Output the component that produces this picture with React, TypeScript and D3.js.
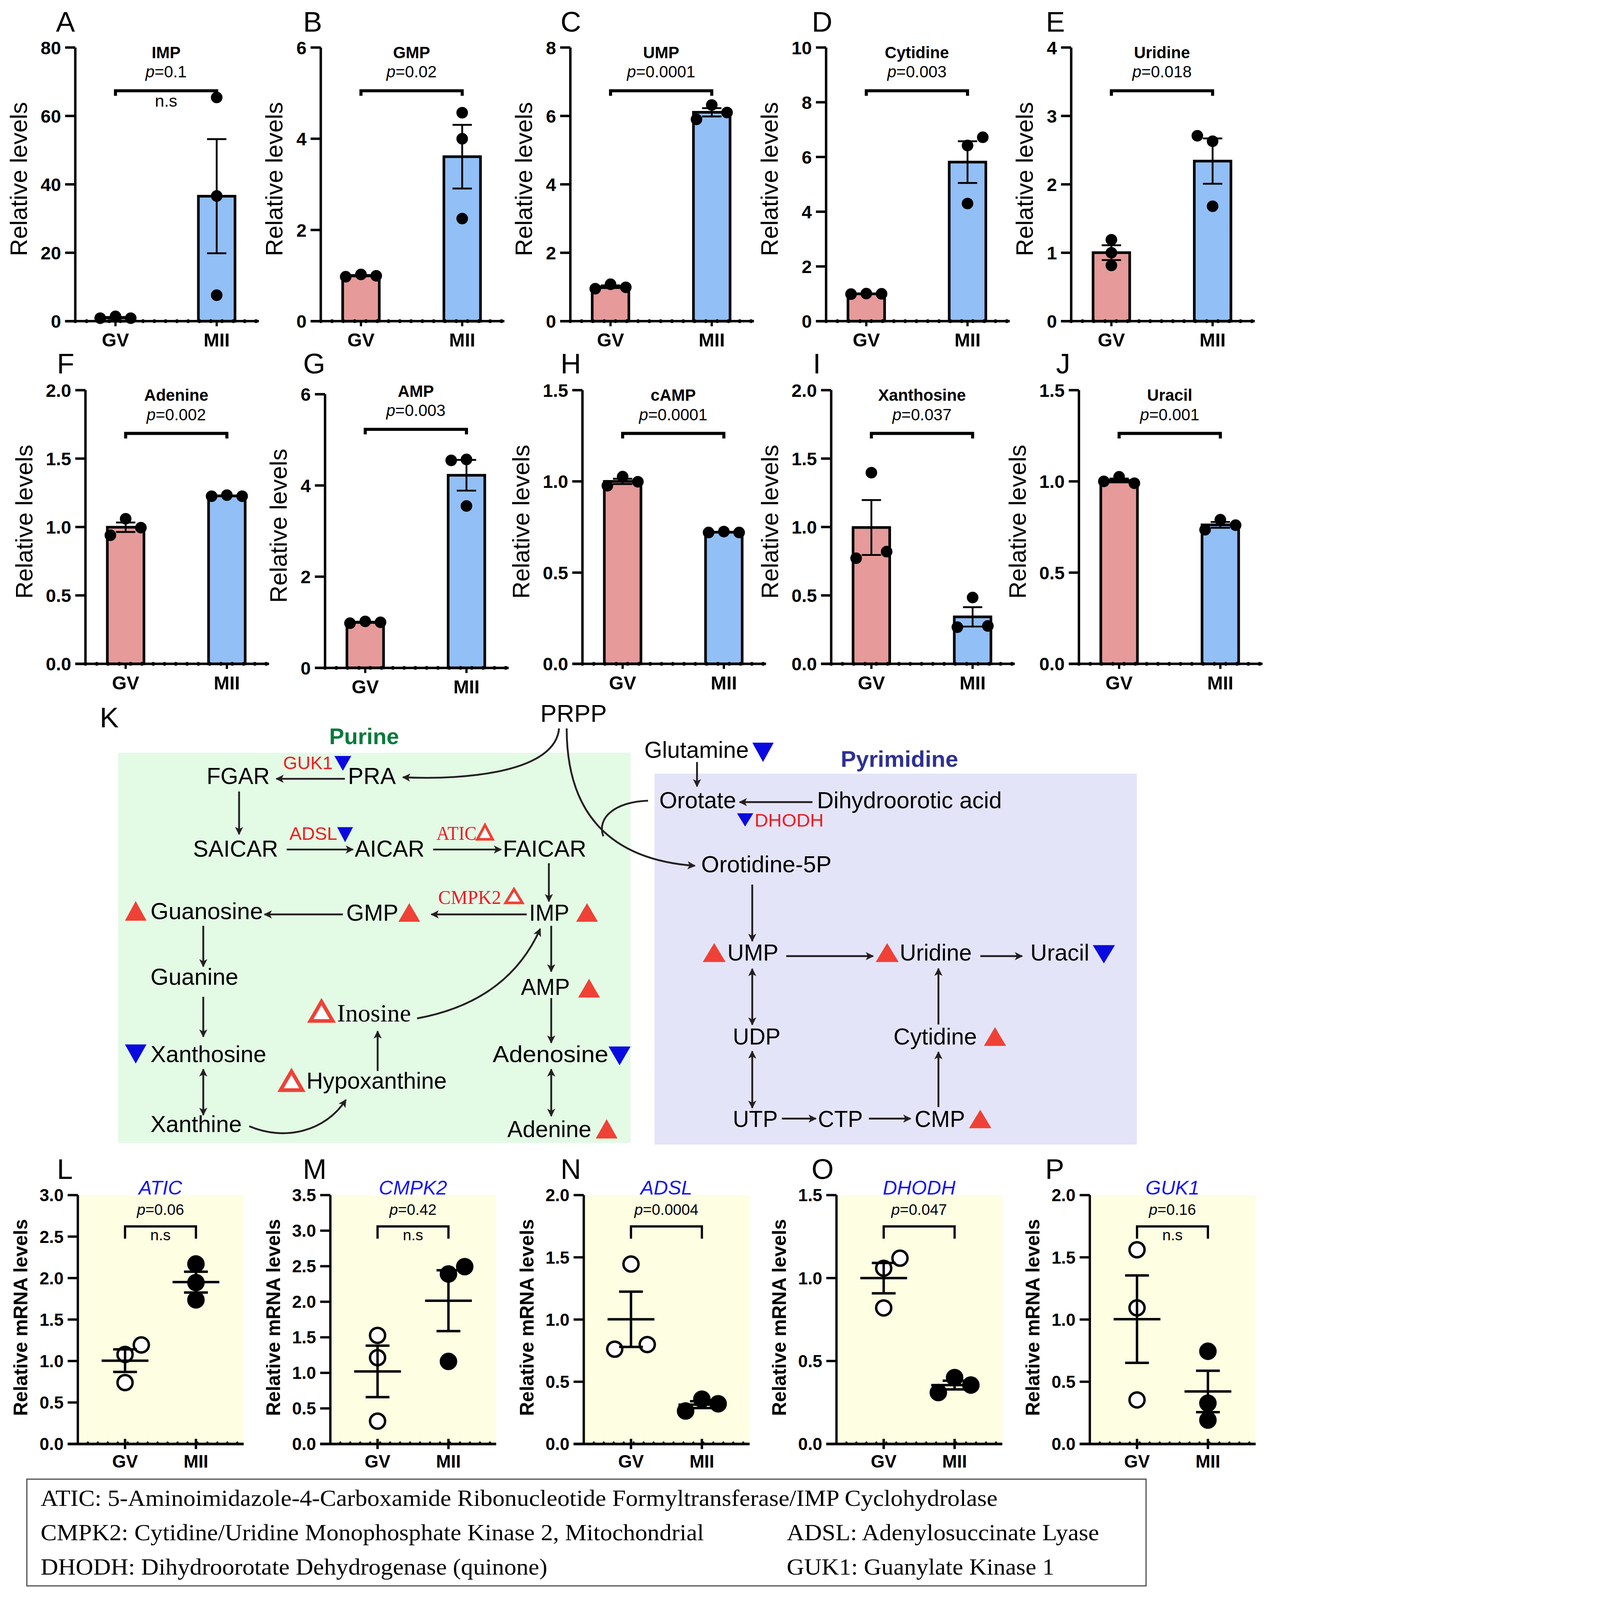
import React from "react";
import * as d3 from "d3";

const W = 1250;
const H = 1569.6;
// the photographed area is about 4096 px square, so the figure is scaled to fit it
const SCALE = 4088 / H;
const SANS = "'Liberation Sans', Arial, Helvetica, sans-serif";
const SERIF = "'Liberation Serif', 'Times New Roman', serif";

const groups = ["GV", "MII"];

// ---- A–J: metabolite levels (three samples per group)
const metabolites = ["IMP", "GMP", "UMP", "Cytidine", "Uridine", "Adenine", "AMP", "cAMP", "Xanthosine", "Uracil"];
const metaboliteP = ["0.1", "0.02", "0.0001", "0.003", "0.018", "0.002", "0.003", "0.0001", "0.037", "0.001"];
const metaboliteNs = [true, false, false, false, false, false, false, false, false, false];
const metaboliteMax = [80, 6, 8, 10, 4, 2, 6, 1.5, 2, 1.5];
const metaboliteStep = [20, 2, 2, 2, 1, 0.5, 2, 0.5, 0.5, 0.5];
const gvLevels = [
  [0.87, 1.41, 0.87],
  [0.975, 1.025, 0.995],
  [0.95, 1.08, 0.99],
  [0.99, 1.01, 1.0],
  [1.19, 1.0, 0.815],
  [0.94, 1.06, 0.995],
  [0.98, 1.02, 1.0],
  [0.976, 1.026, 0.998],
  [1.397, 0.772, 0.82],
  [1.0, 1.025, 0.99],
];
const miiLevels = [
  [65.4, 36.6, 7.6],
  [4.57, 4.0, 2.25],
  [5.9, 6.32, 6.1],
  [6.72, 6.42, 4.3],
  [2.71, 2.63, 1.68],
  [1.225, 1.233, 1.225],
  [4.55, 4.57, 3.55],
  [0.72, 0.725, 0.72],
  [0.485, 0.268, 0.277],
  [0.735, 0.79, 0.76],
];

// ---- L–P: relative mRNA levels
const genes = ["ATIC", "CMPK2", "ADSL", "DHODH", "GUK1"];
const geneP = ["0.06", "0.42", "0.0004", "0.047", "0.16"];
const geneNs = [true, true, false, false, true];
const geneMax = [3.0, 3.5, 2.0, 1.5, 2.0];
const gvMrna = [
  [1.079, 1.194, 0.74],
  [1.527, 1.214, 0.321],
  [1.446, 0.762, 0.799],
  [1.059, 1.12, 0.82],
  [1.561, 1.094, 0.354],
];
const miiMrna = [
  [2.17, 1.946, 1.737],
  [2.494, 2.39, 1.161],
  [0.265, 0.36, 0.323],
  [0.31, 0.4, 0.355],
  [0.745, 0.328, 0.192],
];

// ---- legend of gene names
const legendRows = [
  ["ATIC: 5-Aminoimidazole-4-Carboxamide Ribonucleotide Formyltransferase/IMP Cyclohydrolase", ""],
  ["CMPK2: Cytidine/Uridine Monophosphate Kinase 2, Mitochondrial", "ADSL: Adenylosuccinate Lyase"],
  ["DHODH: Dihydroorotate Dehydrogenase (quinone)", "GUK1: Guanylate Kinase 1"],
];

// ---- layout (positions / styling only)
const barAxisX = [74, 315.3, 560.6, 812, 1052.9, 84, 319.5, 572.5, 817, 1060.5];
const barTop = [46.7, 46.7, 46.7, 46.7, 46.7, 383.5, 387.5, 383.5, 383.5, 383.5];
const barLetterX = [55, 298, 551, 798, 1028, 56, 298, 551, 799, 1038];
const barLetterY = [31, 31, 31, 31, 31, 367, 367, 367, 367, 367];
const barShift = [0, 0, 0, 0, 0, 0, -8, 0, 0, 0];
// horizontal spread slot of each dot (-1 left, 0 centre, 1 right)
const gvSlots = [[-1, 0, 1], [-1, 0, 1], [-1, 0, 1], [-1, 0, 1], [0, 0, 0], [-1, 0, 1], [-1, 0, 1], [-1, 0, 1], [0, -1, 1], [-1, 0, 1]];
const miiSlots = [[0, 0, 0], [0, 0, 0], [-1, 0, 1], [1, 0, 0], [-1, 0, 0], [-1, 0, 1], [-1, 0, 0], [-1, 0, 1], [0, -1, 1], [-1, 0, 1]];

const mrnaAxisX = [76.5, 324.7, 573.8, 822.2, 1071.2];
const mrnaLetterX = [56, 297.7, 551, 797.7, 1027.4];
const mrnaTop = 1174.7;
const mrnaBottom = 1419.3;
const gvMrnaSlots = [[0, 1, 0], [0, 0, 0], [0, -1, 1], [0, 1, 0], [0, 0, 0]];
const miiMrnaSlots = [[0, 0, 0], [1, 0, 0], [-1, 0, 1], [-1, 0, 1], [0, 0, 0]];

const PINK = "#e69a9a";
const LIGHTBLUE = "#92bff6";
const RED = "#ef4136";
const ENZ = "#ed1c24";
const TRIBLUE = "#0a0ae0";
const INK = "#231f20";

const pLabel = (p: string) => (
  <>
    <tspan fontStyle="italic">p</tspan>={p}
  </>
);

const labelWidth = (s: string) => s.split("").reduce((a, c) => a + (c === "." ? 4.9 : 9.7), 0);

function BarPanel({ i }: { i: number }) {
  const ax = barAxisX[i];
  const top = barTop[i];
  const bottom = top + 269;
  const sh = barShift[i];
  const y = d3.scaleLinear().domain([0, metaboliteMax[i]]).range([bottom, top]);
  const x = d3.scalePoint<string>().domain(groups).range([ax, ax + 178.5]).padding(0.397);
  const xEnd = ax + 180.5;
  const step = metaboliteStep[i];
  const ticks = d3.range(0, metaboliteMax[i] + step / 2, step);
  const fmt = step < 1 ? d3.format(".1f") : d3.format("d");
  const maxW = d3.max(ticks, (t) => labelWidth(fmt(t)))!;
  const titleX = ax - 15 - maxW - 13;
  const sets = [gvLevels[i], miiLevels[i]];
  const slots = [gvSlots[i], miiSlots[i]];
  const fills = [PINK, LIGHTBLUE];
  const gx = x("GV")!;
  const mx = x("MII")!;
  const cx = (gx + mx) / 2;
  const by = top + 42.5 + sh;
  return (
    <g>
      <text x={barLetterX[i]} y={barLetterY[i]} fontSize={28}>
        {"ABCDEFGHIJ"[i]}
      </text>
      <text transform={`translate(${titleX},${top + 129.3}) rotate(-90)`} textAnchor="middle" fontSize={23.5}>
        Relative levels
      </text>
      {sets.map((v, k) => {
        const m = d3.mean(v)!;
        const c = x(groups[k])!;
        return (
          <rect key={k} x={c - 18} y={y(m)} width={36} height={bottom - y(m)} fill={fills[k]} stroke="#000" strokeWidth={2.6} />
        );
      })}
      {sets.map((v, k) => {
        const m = d3.mean(v)!;
        const se = d3.deviation(v)! / Math.sqrt(v.length);
        const c = x(groups[k])!;
        return (
          <g key={k} stroke="#000" strokeWidth={1.8}>
            <line x1={c} x2={c} y1={y(m - se)} y2={y(m + se)} />
            <line x1={c - 9.5} x2={c + 9.5} y1={y(m - se)} y2={y(m - se)} />
            <line x1={c - 9.5} x2={c + 9.5} y1={y(m + se)} y2={y(m + se)} />
          </g>
        );
      })}
      {/* axes */}
      <line x1={ax} x2={ax} y1={bottom} y2={top} stroke="#000" strokeWidth={2.4} />
      <line x1={ax - 10} x2={xEnd} y1={bottom} y2={bottom} stroke="#000" strokeWidth={2.4} />
      {d3.range(ax, xEnd, 11.1).map((d, k) => (
        <circle key={k} cx={d} cy={bottom} r={1.9} fill="#000" />
      ))}
      {ticks.map((t, k) => (
        <g key={k}>
          <line x1={ax - 10} x2={ax} y1={y(t)} y2={y(t)} stroke="#000" strokeWidth={2.4} />
          <text x={ax - 14} y={y(t)} dy="0.36em" textAnchor="end" fontWeight="bold" fontSize={18}>
            {fmt(t)}
          </text>
        </g>
      ))}
      {groups.map((g) => (
        <g key={g}>
          <line x1={x(g)} x2={x(g)} y1={bottom} y2={bottom + 5} stroke="#000" strokeWidth={2.2} />
          <text x={x(g)} y={bottom + 25} textAnchor="middle" fontWeight="bold" fontSize={18.5}>
            {g}
          </text>
        </g>
      ))}
      {sets.map((v, k) =>
        v.map((d, j) => (
          <circle key={`${k}-${j}`} cx={x(groups[k])! + slots[k][j] * 15} cy={y(d)} r={5.7} fill="#000" />
        ))
      )}
      {/* annotation */}
      <text x={cx} y={top + 10.5 + sh} textAnchor="middle" fontWeight="bold" fontSize={16}>
        {metabolites[i]}
      </text>
      <text x={cx} y={top + 29.5 + sh} textAnchor="middle" fontSize={16}>
        {pLabel(metaboliteP[i])}
      </text>
      <path d={`M${gx},${by + 5}V${by}H${mx}V${by + 5}`} fill="none" stroke="#000" strokeWidth={3} />
      {metaboliteNs[i] && (
        <text x={cx} y={top + 58 + sh} textAnchor="middle" fontSize={16.5}>
          n.s
        </text>
      )}
    </g>
  );
}

function MrnaPanel({ i }: { i: number }) {
  const ax = mrnaAxisX[i];
  const y = d3.scaleLinear().domain([0, geneMax[i]]).range([mrnaBottom, mrnaTop]);
  const x = d3.scalePoint<string>().domain(groups).range([ax, ax + 162.5]).padding(0.666);
  const xEnd = ax + 163;
  const ticks = d3.range(0, geneMax[i] + 0.25, 0.5);
  const fmt = d3.format(".1f");
  const sets = [gvMrna[i], miiMrna[i]];
  const slots = [gvMrnaSlots[i], miiMrnaSlots[i]];
  const gx = x("GV")!;
  const mx = x("MII")!;
  const cx = (gx + mx) / 2;
  const by = 1205.5;
  return (
    <g>
      <rect x={ax} y={mrnaTop} width={xEnd - ax} height={mrnaBottom - mrnaTop} fill="#fefee2" />
      <text x={mrnaLetterX[i]} y={1158.7} fontSize={28}>
        {"LMNOP"[i]}
      </text>
      <text transform={`translate(${ax - 49.5},1295) rotate(-90)`} textAnchor="middle" fontWeight="bold" fontSize={19}>
        Relative mRNA levels
      </text>
      <line x1={ax} x2={ax} y1={mrnaBottom} y2={mrnaTop} stroke="#000" strokeWidth={2.3} />
      <line x1={ax - 10} x2={xEnd} y1={mrnaBottom} y2={mrnaBottom} stroke="#000" strokeWidth={2.6} />
      {d3.range(ax, xEnd, 9.8).map((d, k) => (
        <circle key={k} cx={d} cy={mrnaBottom - 1.5} r={1} fill="#000" />
      ))}
      {ticks.map((t, k) => (
        <g key={k}>
          <line x1={ax - 10} x2={ax} y1={y(t)} y2={y(t)} stroke="#000" strokeWidth={2.3} />
          <text x={ax - 14} y={y(t)} dy="0.36em" textAnchor="end" fontWeight="bold" fontSize={17}>
            {fmt(t)}
          </text>
        </g>
      ))}
      {groups.map((g) => (
        <g key={g}>
          <line x1={x(g)} x2={x(g)} y1={mrnaBottom - 5} y2={mrnaBottom + 5} stroke="#000" strokeWidth={2.4} />
          <text x={x(g)} y={1442.6} textAnchor="middle" fontWeight="bold" fontSize={17.5}>
            {g}
          </text>
        </g>
      ))}
      {sets.map((v, k) =>
        v.map((d, j) => (
          <circle
            key={`${k}-${j}`}
            cx={x(groups[k])! + slots[k][j] * 16}
            cy={y(d)}
            r={7.4}
            fill={k === 0 ? "#fff" : "#000"}
            stroke="#000"
            strokeWidth={2.4}
          />
        ))
      )}
      {sets.map((v, k) => {
        const m = d3.mean(v)!;
        const se = d3.deviation(v)! / Math.sqrt(v.length);
        const c = x(groups[k])!;
        return (
          <g key={k} stroke="#000" strokeWidth={2.4}>
            <line x1={c - 23} x2={c + 23} y1={y(m)} y2={y(m)} />
            <line x1={c} x2={c} y1={y(m - se)} y2={y(m + se)} />
            <line x1={c - 11.7} x2={c + 11.7} y1={y(m - se)} y2={y(m - se)} />
            <line x1={c - 11.7} x2={c + 11.7} y1={y(m + se)} y2={y(m + se)} />
          </g>
        );
      })}
      <text x={cx} y={1174} textAnchor="middle" fontStyle="italic" fill="#1414f5" fontSize={19.5}>
        {genes[i]}
      </text>
      <text x={cx} y={1194} textAnchor="middle" fontSize={15}>
        {pLabel(geneP[i])}
      </text>
      <path d={`M${gx},${by + 12}V${by}H${mx}V${by + 12}`} fill="none" stroke="#000" strokeWidth={2.2} />
      {geneNs[i] && (
        <text x={cx} y={1219} textAnchor="middle" fontSize={15}>
          n.s
        </text>
      )}
    </g>
  );
}

// ---- pathway diagram (K)
type Node = [string, number, number, number, boolean?];
const purineNodes: Node[] = [
  ["FGAR", 203.1, 770.5, 62],
  ["PRA", 342, 770.5, 47],
  ["SAICAR", 189.8, 842.2, 83.6],
  ["AICAR", 348.7, 842.2, 68.6],
  ["FAICAR", 494.3, 842.2, 82],
  ["Guanosine", 147.9, 903.6, 110.5],
  ["GMP", 340.4, 905, 51.1],
  ["IMP", 520.1, 905, 39.5],
  ["Guanine", 147.9, 967.8, 86.4],
  ["AMP", 512, 978, 48.2],
  ["Inosine", 331.3, 1004, 72.6, true],
  ["Xanthosine", 147.9, 1044, 113.8],
  ["Adenosine", 484.3, 1044, 113.7],
  ["Hypoxanthine", 301.2, 1070, 137.9],
  ["Xanthine", 147.9, 1112.6, 89.7],
  ["Adenine", 498.7, 1117.8, 82.6],
];
const pyrimidineNodes: Node[] = [
  ["Glutamine", 633.3, 745, 102.7],
  ["Orotate", 648, 794.5, 75.6],
  ["Dihydroorotic acid", 803, 794.5, 181.7],
  ["Orotidine-5P", 689.2, 857.3, 128.1],
  ["UMP", 714.9, 944, 50.2],
  ["Uridine", 884.3, 944, 70.9],
  ["Uracil", 1012.8, 944, 57.9],
  ["UDP", 720.3, 1026.6, 46.8],
  ["Cytidine", 878.2, 1026.6, 82],
  ["UTP", 720.3, 1107.6, 44.2],
  ["CTP", 804, 1107.6, 44.1],
  ["CMP", 899, 1107.6, 49.5],
];
// enzyme labels: text, x, baseline, width, serif
const enzymes: Node[] = [
  ["GUK1", 278.4, 756, 48.6],
  ["ADSL", 284.5, 825.5, 47],
  ["ATIC", 429, 825.5, 39.5, true],
  ["CMPK2", 430.7, 888.3, 61.9, true],
  ["DHODH", 741.7, 812.4, 67.9],
];
// triangles: kind, centre x, top, width, height
type Tri = ["up" | "down" | "open", number, number, number, number];
const triangles: Tri[] = [
  ["up", 133.4, 885.7, 21.2, 19.3],
  ["up", 402.3, 887.7, 21.4, 18.3],
  ["up", 577, 887.7, 21.4, 18.3],
  ["up", 579, 962, 21.4, 18.5],
  ["up", 596.3, 1100, 21.4, 19],
  ["down", 133.4, 1026.6, 21.2, 18.8],
  ["down", 609, 1028.6, 21.6, 18.5],
  ["open", 286.5, 1053, 21.5, 18.5],
  ["open", 316, 984.5, 22, 19],
  ["down", 337, 743, 16.6, 14.6],
  ["down", 339.2, 813, 15.6, 14.8],
  ["open", 476.7, 811, 15, 14],
  ["open", 505.2, 874, 16.5, 13.5],
  ["down", 750, 730, 21, 19],
  ["down", 732.4, 799.4, 16, 13],
  ["up", 702, 927, 22.5, 18.6],
  ["up", 872, 927, 22.5, 18.6],
  ["down", 1085, 929, 21.8, 18],
  ["up", 978, 1009.6, 21.8, 18.4],
  ["up", 963.5, 1090.8, 22, 18.2],
];
// straight arrows: x1, y1, x2, y2, double-headed
const arrows: [number, number, number, number, boolean?][] = [
  [339, 765.5, 271.6, 765.5],
  [235, 778, 235, 820],
  [281.8, 835, 347, 835],
  [425.7, 835, 492.6, 835],
  [539.5, 848.5, 539.5, 886],
  [517.7, 898.8, 424, 898.8],
  [337, 898.8, 260, 898.8],
  [199.8, 910, 199.8, 950],
  [199.8, 979.8, 199.8, 1019],
  [199.8, 1051, 199.8, 1096, true],
  [541.8, 910, 541.8, 955],
  [541.8, 981, 541.8, 1025],
  [541.8, 1051, 541.8, 1097, true],
  [371.2, 1052.7, 371.2, 1013.6],
  [685.1, 749, 685.1, 773],
  [798.6, 788.4, 727, 788.4],
  [739.4, 869.5, 739.4, 925],
  [772.8, 939.8, 858.2, 939.8],
  [963.6, 939.8, 1004.7, 939.8],
  [739.4, 952.3, 739.4, 1007.2, true],
  [739.4, 1033.3, 739.4, 1089, true],
  [768.5, 1099.5, 802, 1099.5],
  [854.1, 1099.5, 895, 1099.5],
  [922.4, 1088.2, 922.4, 1034],
  [922.4, 1007, 922.4, 952],
];
const curves: [string, boolean][] = [
  ["M549.5,716 C546,758 462,767 396,764", true],
  ["M557,716 C557,800 600,845 683,851", true],
  ["M637,787 C606,788 586,803 593,822", false],
  ["M245,1107 C280,1122 320,1112 340,1081", true],
  ["M410,1001 C470,990 510,960 531,913", true],
];

function triPath([kind, cx, top, w, h]: Tri) {
  return kind === "down"
    ? `M${cx - w / 2},${top}L${cx + w / 2},${top}L${cx},${top + h}Z`
    : `M${cx - w / 2},${top + h}L${cx},${top}L${cx + w / 2},${top + h}Z`;
}

function Pathway() {
  const nodeText = (n: Node, k: number, size: number) => (
    <text
      key={k}
      x={n[1]}
      y={n[2]}
      fontSize={n[4] ? size + 1.5 : size}
      fontFamily={n[4] ? SERIF : SANS}
      textLength={n[3]}
      lengthAdjust="spacingAndGlyphs"
    >
      {n[0]}
    </text>
  );
  return (
    <g>
      <rect x={116.1} y={740} width={503.7} height={383.5} fill="#e3fae5" />
      <rect x={643.3} y={760.4} width={474.2} height={364.6} fill="#e4e4f8" />
      <text x={98} y={715} fontSize={28}>
        K
      </text>
      <text x={531.1} y={709.7} fontSize={24} textLength={65.3} lengthAdjust="spacingAndGlyphs">
        PRPP
      </text>
      <text x={323.6} y={731.4} fontSize={22} fontWeight="bold" fill="#0b7a3b" textLength={68.6} lengthAdjust="spacingAndGlyphs">
        Purine
      </text>
      <text x={826.4} y={753.7} fontSize={22} fontWeight="bold" fill="#2e3192" textLength={115.4} lengthAdjust="spacingAndGlyphs">
        Pyrimidine
      </text>
      <g stroke={INK} strokeWidth={1.8} fill="none">
        {arrows.map((a, k) => (
          <line
            key={k}
            x1={a[0]}
            y1={a[1]}
            x2={a[2]}
            y2={a[3]}
            markerEnd="url(#ah)"
            markerStart={a[4] ? "url(#ah)" : undefined}
          />
        ))}
        {curves.map((c, k) => (
          <path key={k} d={c[0]} markerEnd={c[1] ? "url(#ah)" : undefined} />
        ))}
      </g>
      {purineNodes.map((n, k) => nodeText(n, k, 22.5))}
      {pyrimidineNodes.map((n, k) => nodeText(n, k, 22.5))}
      <g fill={ENZ}>{enzymes.map((n, k) => nodeText(n, k, 18))}</g>
      {triangles.map((t, k) => (
        <path
          key={k}
          d={triPath(t)}
          fill={t[0] === "up" ? RED : t[0] === "down" ? TRIBLUE : "#fff"}
          stroke={t[0] === "open" ? RED : "none"}
          strokeWidth={t[3] > 18 ? 3.6 : 2.6}
          strokeLinejoin="miter"
        />
      ))}
    </g>
  );
}

function Legend() {
  const widths = [
    [940.6, 0],
    [652, 307],
    [498.1, 263.1],
  ];
  const ys = [1480, 1513.8, 1547.6];
  return (
    <g fontFamily={SERIF} fontSize={23}>
      <rect x={26.4} y={1453.9} width={1100.1} height={104.9} fill="none" stroke="#555" strokeWidth={1.2} />
      {legendRows.map((r, k) => (
        <g key={k}>
          <text x={39.9} y={ys[k]} textLength={widths[k][0]} lengthAdjust="spacingAndGlyphs">
            {r[0]}
          </text>
          {r[1] && (
            <text x={773.3} y={ys[k]} textLength={widths[k][1]} lengthAdjust="spacingAndGlyphs">
              {r[1]}
            </text>
          )}
        </g>
      ))}
    </g>
  );
}

export default function App() {
  return (
    <div style={{ position: "absolute", left: 0, top: 0 }}>
      <svg
        width={W * SCALE}
        height={H * SCALE}
        viewBox={`0 0 ${W} ${H}`}
        fontFamily={SANS}
        style={{ display: "block", background: "#fff" }}
      >
        <defs>
          <marker
            id="ah"
            viewBox="0 0 10 10"
            refX={9}
            refY={5}
            markerUnits="userSpaceOnUse"
            markerWidth={9}
            markerHeight={8}
            orient="auto-start-reverse"
          >
            <path d="M0,0 L10,5 L0,10 L2.5,5 Z" fill={INK} stroke="none" />
          </marker>
        </defs>
        <rect x={0} y={0} width={W} height={H} fill="#fff" />
        {metabolites.map((_, i) => (
          <BarPanel key={i} i={i} />
        ))}
        <Pathway />
        {genes.map((_, i) => (
          <MrnaPanel key={i} i={i} />
        ))}
        <Legend />
      </svg>
    </div>
  );
}
